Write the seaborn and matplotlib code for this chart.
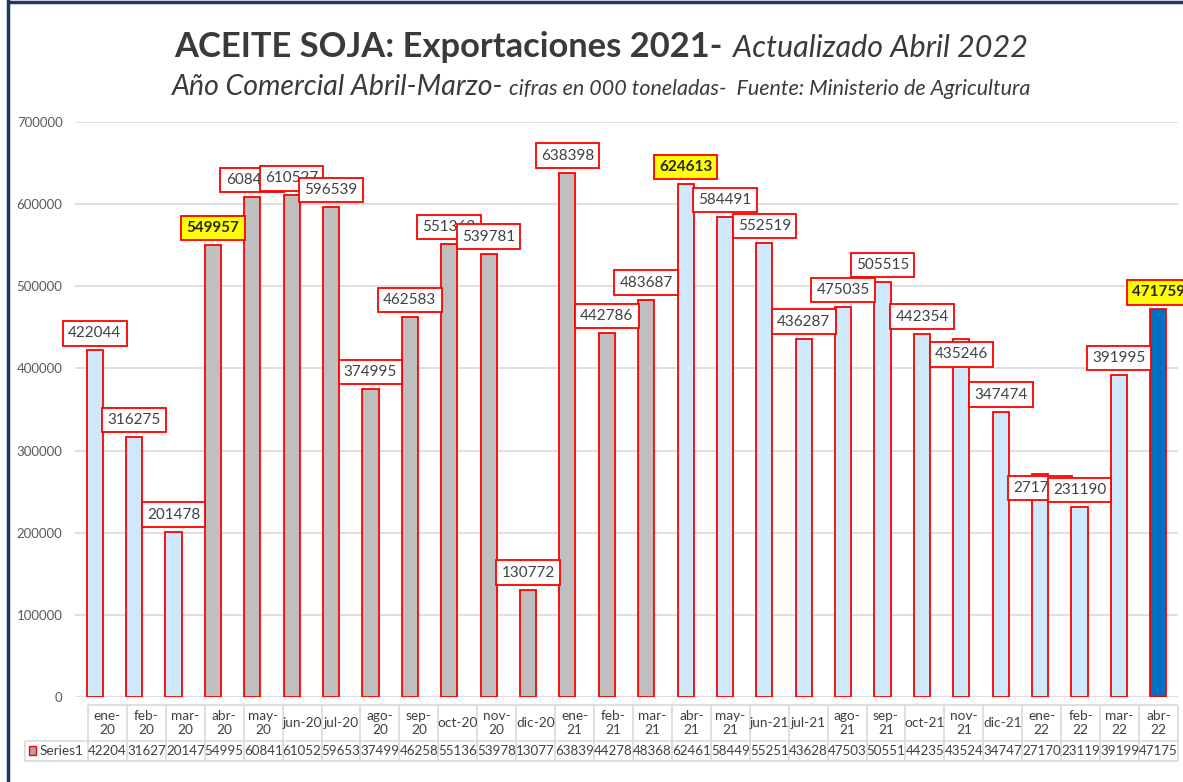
#ACEITE SOJA: exportaciones mensuales (miles de toneladas)
#barras con etiquetas en recuadro rojo y tabla de datos debajo

import pandas as pd
import matplotlib.pyplot as plt
import seaborn as sns
from matplotlib.patches import Rectangle


# datos
meses = ['ene-20', 'feb-20', 'mar-20', 'abr-20', 'may-20', 'jun-20', 'jul-20',
         'ago-20', 'sep-20', 'oct-20', 'nov-20', 'dic-20', 'ene-21', 'feb-21',
         'mar-21', 'abr-21', 'may-21', 'jun-21', 'jul-21', 'ago-21', 'sep-21',
         'oct-21', 'nov-21', 'dic-21', 'ene-22', 'feb-22', 'mar-22', 'abr-22']
toneladas = [422044, 316275, 201478, 549957, 608414, 610527, 596539,
             374995, 462583, 551363, 539781, 130772, 638398, 442786,
             483687, 624613, 584491, 552519, 436287, 475035, 505515,
             442354, 435246, 347474, 271704, 231190, 391995, 471759]
destacados = ['abr-20', 'abr-21', 'abr-22']

# estilos (colores por campaña y etiquetas desplazadas)
celeste, gris, azul = '#cde9fb', '#bfbfbf', '#0070c0'
colores = [celeste] * 3 + [gris] * 12 + [celeste] * 12 + [azul]
ajuste_etiqueta = {'nov-21': -32, 'ene-22': -31}

W, H = 1183, 782
sns.set_style('white')
plt.rcParams['font.family'] = ['Lato', 'DejaVu Sans']

fig = plt.figure(figsize=(W / 100, H / 100), dpi=100)
ax = fig.add_axes([75 / W, 1 - 697 / H, 1103 / W, 575 / H])

df = pd.DataFrame({'mes': meses, 'toneladas': toneladas})
sns.barplot(data=df, x='mes', y='toneladas', hue='mes', palette=colores,
            legend=False, width=0.41, edgecolor='#ff0000', linewidth=1.3,
            saturation=1, ax=ax, zorder=3)

ax.set_xlim(-0.5, len(meses) - 0.5)
ax.set_ylim(0, 700000)
ax.set_yticks(range(0, 700001, 100000))
ax.yaxis.grid(True, color='#d9d9d9', lw=1.2)
ax.set_axisbelow(True)
ax.set_xticks([])
ax.set_xlabel('')
ax.set_ylabel('')
sns.despine(ax=ax, left=True, bottom=True)
ax.tick_params(axis='y', length=0, pad=9, labelsize=9.5, labelcolor='#595959')

# etiquetas de valor
for i, (m, v) in enumerate(zip(meses, toneladas)):
    dest = m in destacados
    ax.annotate(str(v), (i, v), xytext=(0, 10 + ajuste_etiqueta.get(m, 0)),
                textcoords='offset pixels', ha='center', va='bottom',
                fontsize=11, color='#262626' if dest else '#404040',
                fontweight='bold' if dest else 'normal',
                bbox=dict(boxstyle='square,pad=0.34',
                          fc='#ffff00' if dest else 'white',
                          ec='#ff0000', lw=1.3),
                zorder=10 + i, annotation_clip=False)

# capa en pixeles para tabla, marco y titulos
tab = fig.add_axes([0, 0, 1, 1])
tab.set_xlim(0, W)
tab.set_ylim(H, 0)
tab.axis('off')
tab.patch.set_visible(False)

x0, x1 = 88, 1178
cw = (x1 - x0) / len(meses)
gris_tabla = '#d9d9d9'
tab.hlines([705], x0, x1, color=gris_tabla, lw=1.2)
tab.hlines([741, 761], 25, x1, color=gris_tabla, lw=1.2)
tab.vlines([x0 + k * cw for k in range(len(meses) + 1)], 705, 761, color=gris_tabla, lw=1.2)
tab.vlines([25], 741, 761, color=gris_tabla, lw=1.2)

for k, (m, v) in enumerate(zip(meses, toneladas)):
    xc = x0 + (k + 0.5) * cw
    mes, anio = m.split('-')
    texto = m if mes in ('jun', 'jul', 'oct', 'dic') else mes + '-\n' + anio
    tab.text(xc, 723, texto, ha='center', va='center', fontsize=9.8,
             color='#404040', linespacing=1.2)
    tab.text(xc, 751, str(v)[:5], ha='center', va='center', fontsize=9.6,
             color='#404040')

tab.add_patch(Rectangle((29, 746), 7, 9, fc='#a6a6a6', ec='#ff0000', lw=1))
tab.text(40, 751, 'Series1', ha='left', va='center', fontsize=9.8, color='#404040')

# marco azul (izquierda y arriba)
tab.plot([8, 8], [0, H], color='#1f3864', lw=2.5)
tab.plot([8, W], [1.5, 1.5], color='#1f3864', lw=2.5)


def linea_titulo(piezas, y_px, centro_px=601):
    r = fig.canvas.get_renderer()
    textos = []
    for s, gap, kw in piezas:
        textos.append((fig.text(0, 1 - y_px / H, s, va='baseline', color='#3a3a3a', **kw), gap))
    anchos = [t.get_window_extent(r).width + g for t, g in textos]
    x = centro_px - sum(anchos) / 2
    for (t, g), w in zip(textos, anchos):
        t.set_x(x / W)
        x += w


linea_titulo([('ACEITE SOJA: Exportaciones 2021-', 10, dict(fontsize=24.8, fontweight='bold')),
              ('Actualizado Abril 2022', 0, dict(fontsize=22, fontstyle='italic'))], 57)
linea_titulo([('Año Comercial Abril-Marzo-', 6, dict(fontsize=20.5, fontstyle='italic')),
              ('cifras en 000 toneladas-  Fuente: Ministerio de Agricultura', 0,
               dict(fontsize=15.5, fontstyle='italic'))], 95)

fig.savefig('out.png', dpi=100)
